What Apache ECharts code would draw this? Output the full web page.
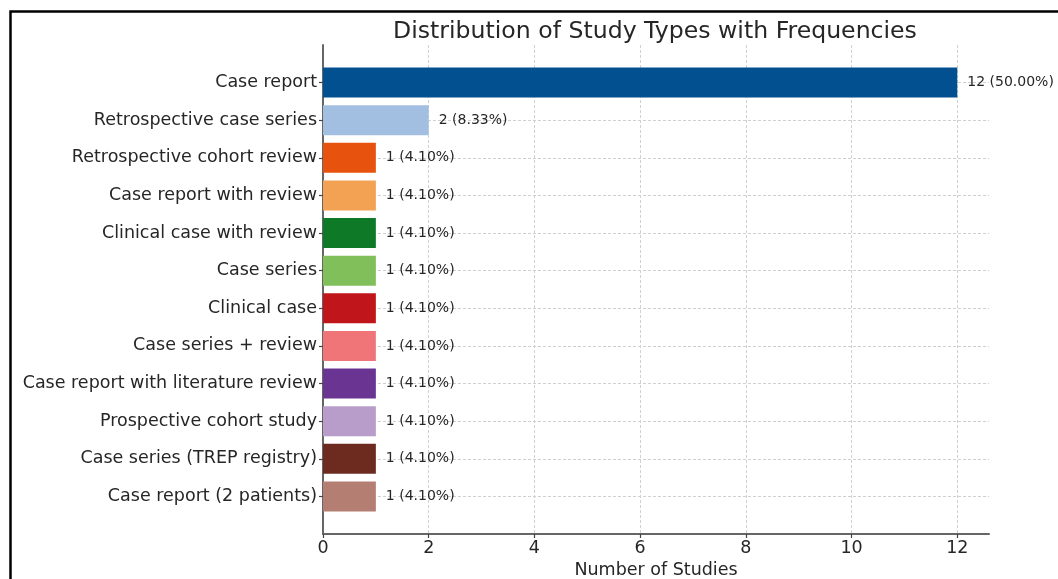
<!DOCTYPE html>
<html>
<head>
<meta charset="utf-8">
<script src="https://cdn.jsdelivr.net/npm/echarts@6/dist/echarts.min.js"></script>
<style>
html,body{margin:0;padding:0;background:#fff;}
#chart{width:1058px;height:579px;}
</style>
</head>
<body>
<div id="chart"></div>
<script>
// ---- data ----
const categories = [
  'Case report',
  'Retrospective case series',
  'Retrospective cohort review',
  'Case report with review',
  'Clinical case with review',
  'Case series',
  'Clinical case',
  'Case series + review',
  'Case report with literature review',
  'Prospective cohort study',
  'Case series (TREP registry)',
  'Case report (2 patients)'
];
const counts = [12, 2, 1, 1, 1, 1, 1, 1, 1, 1, 1, 1];
const percentLabels = ['50.00%', '8.33%', '4.10%', '4.10%', '4.10%', '4.10%', '4.10%', '4.10%', '4.10%', '4.10%', '4.10%', '4.10%'];
const barColors = ['#02508f', '#a2bee0', '#e7530e', '#f3a152', '#0e7a27', '#80bf5a', '#c0151b', '#ef7579', '#6a3493', '#b89dcb', '#6d2b1f', '#b57e73'];
const xTicks = [0, 2, 4, 6, 8, 10, 12];
const titleText = 'Distribution of Study Types with Frequencies';
const xAxisTitle = 'Number of Studies';

// ---- chart ----
const FONT = 'DejaVu Sans';
const TXT = '#262626';
// padded category list so the axis spine extends one slot above/below the bars
const axisCats = [''].concat(categories, ['']);
const barData = [null].concat(counts.map((v, i) => ({
  value: v,
  itemStyle: { color: barColors[i] },
  label: { formatter: v + ' (' + percentLabels[i] + ')' }
})), [null]);

const chart = echarts.init(document.getElementById('chart'), null, { renderer: 'canvas' });
chart.setOption({
  backgroundColor: '#fff',
  animation: false,
  title: {
    text: titleText,
    left: 650, top: 15, textAlign: 'center',
    textStyle: { fontFamily: FONT, fontSize: 23.6, fontWeight: 'normal', color: TXT }
  },
  graphic: [{
    type: 'rect',
    shape: { x: 10.5, y: 11.5, width: 1100, height: 700 },
    style: { fill: 'none', stroke: '#000', lineWidth: 2.5 },
    silent: true, z: 100
  }],
  grid: { left: 323, right: 69, top: 45, bottom: 45, containLabel: false, outerBoundsMode: 'none' },
  xAxis: {
    type: 'value', min: 0, max: 12.6, interval: 2,
    name: xAxisTitle, nameLocation: 'middle', nameGap: 22,
    nameTextStyle: { fontFamily: FONT, fontSize: 17.5, color: TXT },
    axisLine: { show: true, lineStyle: { color: '#666', width: 2 } },
    axisTick: { show: true, length: 4, customValues: xTicks, lineStyle: { color: '#444', width: 1.2 } },
    axisLabel: { customValues: xTicks, margin: 5, fontFamily: FONT, fontSize: 17.5, color: TXT },
    splitLine: { show: true, lineStyle: { color: '#d0d0d0', type: [3, 2], width: 1 } }
  },
  yAxis: {
    type: 'category', inverse: true, boundaryGap: false, data: axisCats,
    axisLine: { show: true, lineStyle: { color: '#666', width: 2 } },
    axisTick: { show: true, length: 4, interval: (i, v) => v !== '', lineStyle: { color: '#444', width: 1.2 } },
    axisLabel: { interval: 0, margin: 6, fontFamily: FONT, fontSize: 17.5, color: TXT },
    splitLine: { show: true, interval: (i, v) => v !== '', lineStyle: { color: '#d0d0d0', type: [3, 2], width: 1 } }
  },
  series: [{
    type: 'bar',
    data: barData,
    barWidth: 30,
    z: 2,
    label: {
      show: true, position: 'right', distance: 10,
      fontFamily: FONT, fontSize: 14, color: TXT
    }
  }]
});
</script>
</body>
</html>
